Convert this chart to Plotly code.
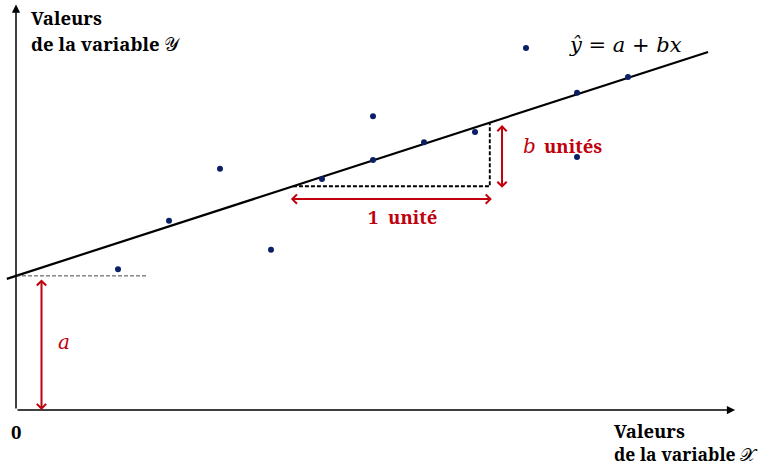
import plotly.graph_objects as go

# Observed points (x, y) and the fitted regression line y = a + b x
x_obs = [2, 3, 4, 5, 6, 7, 7, 8, 9, 10, 11, 11, 12]
y_obs = [2.76, 3.71, 4.73, 3.14, 4.53, 5.76, 4.90, 5.25, 5.45, 7.10, 6.22, 4.96, 6.53]
a = 2.63
b = 0.3235
line_x = [-0.18, 13.57]
# Slope triangle: horizontal run of one unit drawn between these abscissas
run_x = [5.43, 9.29]

line_y = [a + b * v for v in line_x]
run_y = [a + b * v for v in run_x]

RED = "#c0000c"
BOLD_SERIF = "Noto Serif"
ITALIC_SERIF = "DejaVu Serif"

fig = go.Figure()

fig.add_trace(go.Scatter(
    x=line_x, y=line_y, mode="lines",
    line=dict(color="black", width=2.2), hoverinfo="skip"))

# dashed triangle (run then rise)
fig.add_trace(go.Scatter(
    x=[run_x[0], run_x[1], run_x[1]], y=[run_y[0], run_y[0], run_y[1]],
    mode="lines", line=dict(color="black", width=1.9, dash="4px,2px"), hoverinfo="skip"))

# thin dashed guide at the intercept
fig.add_trace(go.Scatter(
    x=[0, 2.55], y=[a, a], mode="lines",
    line=dict(color="#333333", width=0.9, dash="4px,2px"), hoverinfo="skip"))

fig.add_trace(go.Scatter(
    x=x_obs, y=y_obs, mode="markers",
    marker=dict(color="#0b1f66", size=6, symbol="circle"), hoverinfo="skip"))

ann = []

def arrow(x0, y0, x1, y1, color, width, side="end", head=2, size=1.0):
    ann.append(dict(x=x1, y=y1, ax=x0, ay=y0, xref="x", yref="y", axref="x", ayref="y",
                    showarrow=True, arrowhead=head, arrowside=side, arrowsize=size,
                    arrowwidth=width, arrowcolor=color, text=""))

# axes with arrowheads
arrow(0, 0, 0, 7.95, "black", 1.5, head=2, size=1.1)
arrow(0, 0, 14.1, 0, "black", 1.5, head=2, size=1.1)

# red dimension arrows
arrow(0.5, a - 0.04, 0.5, 0.0, RED, 2, side="end+start", head=4, size=0.9)
arrow(5.36, run_y[0] - 0.25, 9.33, run_y[0] - 0.25, RED, 2, side="end+start", head=4, size=0.9)
arrow(9.53, run_y[1] - 0.02, 9.53, run_y[0] - 0.03, RED, 2, side="end+start", head=4, size=0.9)

def text(x, y, s, size=18.5, color="black", family=BOLD_SERIF, xanchor="left"):
    ann.append(dict(x=x, y=y, xref="x", yref="y", text=s, showarrow=False,
                    xanchor=xanchor, yanchor="middle", borderpad=0,
                    font=dict(family=family, size=size, color=color)))

text(0.27, 7.70, "<b>Valeurs</b>")
text(0.27, 7.19, "<b>de la variable</b> 𝒴")
text(0.0, -0.43, "<b>0</b>", xanchor="center")
text(11.70, -0.40, "<b>Valeurs</b>")
text(11.70, -0.86, "<b>de la variable</b> 𝒳", size=17.5)
text(10.82, 7.16, "<i>ŷ = a + bx</i>", size=21, family=ITALIC_SERIF)
text(7.57, 3.80, "<b>1  unité</b>", color=RED, xanchor="center")
text(9.93, 5.18, "<i>b</i>", size=20, color=RED, family=ITALIC_SERIF)
text(10.33, 5.18, "<b>unités</b>", color=RED)
text(0.80, 1.33, "<i>a</i>", size=20, color=RED, family=ITALIC_SERIF)

fig.update_layout(
    width=780, height=468,
    margin=dict(l=0, r=0, t=0, b=0),
    paper_bgcolor="white", plot_bgcolor="white",
    showlegend=False,
    annotations=ann,
    xaxis=dict(range=[-16 / 51, 764 / 51], visible=False, fixedrange=True),
    yaxis=dict(range=[-58 / 51, 410 / 51], visible=False, fixedrange=True),
)

fig.write_html("out.html")
